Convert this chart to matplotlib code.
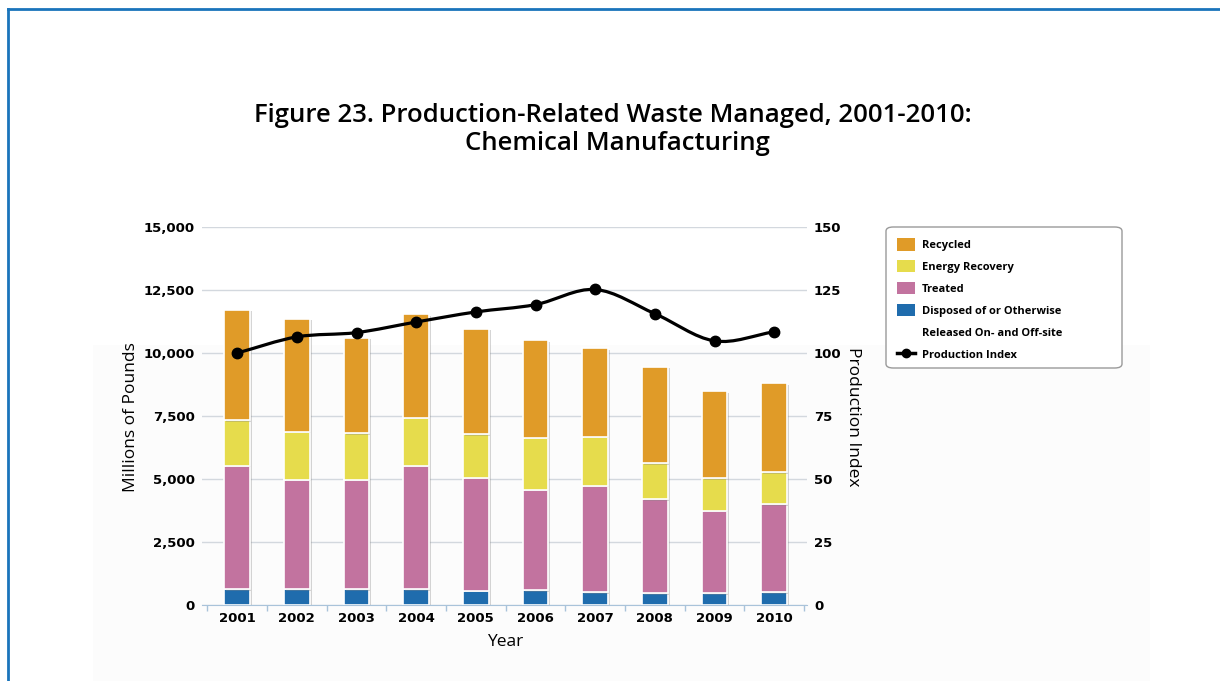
import numpy as np
import matplotlib
matplotlib.use("Agg")
import matplotlib.pyplot as plt
from matplotlib.patches import Patch, Rectangle, PathPatch, FancyBboxPatch
from matplotlib.lines import Line2D
from matplotlib.path import Path
import matplotlib.patheffects as pe

#%% data (millions of pounds)
years = [2001, 2002, 2003, 2004, 2005, 2006, 2007, 2008, 2009, 2010]
disposed = [620, 620, 620, 620, 560, 590, 500, 460, 460, 500]
treated = [4900, 4340, 4340, 4900, 4490, 3970, 4220, 3730, 3280, 3490]
energy = [1810, 1920, 1850, 1900, 1720, 2070, 1960, 1430, 1280, 1270]
recycled = [4390, 4470, 3800, 4110, 4180, 3870, 3500, 3830, 3460, 3530]
prod_index = [100.0, 106.4, 108.1, 112.3, 116.3, 119.2, 125.2, 115.6, 104.8, 108.4]

left_ticks = [0, 2500, 5000, 7500, 10000, 12500, 15000]
right_ticks = [0, 25, 50, 75, 100, 125, 150]

c_rec = '#e09b28'
c_en = '#e6dc4c'
c_tr = '#c2739f'
c_dis = '#1f6cad'

W, H = 1220, 681
fig = plt.figure(figsize=(W/100, H/100), dpi=100)

def px(x, y):
    return x / W, 1 - y / H

# faint backdrop + blue frame
fig.patches.append(Rectangle(px(93, 681), (1150-93)/W, (681-345)/H, transform=fig.transFigure,
                             facecolor='#fcfcfc', edgecolor='none', zorder=-10))
fig.add_artist(Line2D([8/W, 1], [1-9/H, 1-9/H], color='#1a74bb', lw=2))
fig.add_artist(Line2D([8/W, 8/W], [0, 1-9/H], color='#1a74bb', lw=2))

# title
t1 = 'Figure 23. Production-Related Waste Managed, 2001-2010:'
t2 = 'Chemical Manufacturing'
fig.text(*px(613, 116), t1, ha='center', va='center', fontsize=18.5, family='Open Sans', weight='semibold')
fig.text(*px(617, 143), t2, ha='center', va='center', fontsize=18.5, family='Open Sans', weight='semibold')

ax = fig.add_axes([202/W, 1-605/H, (807-202)/W, (605-227)/H])
ax.patch.set_alpha(0)
x = np.array(years)
bw = 0.43
shadow = [pe.SimplePatchShadow(offset=(1.5, -1), shadow_rgbFace='#888888', alpha=0.35), pe.Normal()]

b0 = np.zeros(len(years))
for vals, col in [(disposed, c_dis), (treated, c_tr), (energy, c_en), (recycled, c_rec)]:
    bars = ax.bar(x, vals, bw, bottom=b0, color=col, edgecolor='white', linewidth=1.2, zorder=3)
    for b in bars:
        b.set_path_effects(shadow)
    b0 = b0 + np.array(vals)

ax.set_xlim(2000.41, 2010.55)
ax.set_ylim(0, 15000)
ax.set_yticks(left_ticks)
ax.set_yticklabels(['{:,}'.format(v) for v in left_ticks])
ax.set_xticks(years)
ax.set_xticks(np.arange(2000.5, 2011, 1.0), minor=True)
ax.tick_params(axis='x', which='major', length=0, pad=5)
ax.tick_params(axis='x', which='minor', length=4, color='#a9c3da', width=1)
ax.tick_params(axis='y', length=0, pad=5)
for lab in ax.get_xticklabels() + ax.get_yticklabels():
    lab.set_fontweight('bold')
    lab.set_fontsize(9.5)
    lab.set_family('DejaVu Sans')
ax.grid(axis='y', color='#d3d8de', linewidth=1, zorder=0)
for s in ['top', 'right', 'left']:
    ax.spines[s].set_visible(False)
ax.spines['bottom'].set_color('#a9c3da')
ax.spines['bottom'].set_zorder(4)

ax2 = ax.twinx()
ax2.set_ylim(0, 150)
ax2.set_yticks(right_ticks)
ax2.tick_params(axis='y', length=0, pad=5)
for lab in ax2.get_yticklabels():
    lab.set_fontweight('bold')
    lab.set_fontsize(9.5)
for s in ax2.spines.values():
    s.set_visible(False)

# smooth production index line (bezier through the points)
yv = np.array(prod_index)
n = len(yv)
m = np.zeros(n)
m[1:-1] = (yv[2:] - yv[:-2]) / 2
m[0] = yv[1] - yv[0]
m[-1] = yv[-1] - yv[-2]
verts = [(x[0], yv[0])]
codes = [Path.MOVETO]
for i in range(n - 1):
    verts += [(x[i] + 1/3, yv[i] + m[i]/3), (x[i+1] - 1/3, yv[i+1] - m[i+1]/3), (x[i+1], yv[i+1])]
    codes += [Path.CURVE4] * 3
ax2.add_patch(PathPatch(Path(verts, codes), facecolor='none', edgecolor='black', lw=2.3, zorder=5))
ax2.plot(x, yv, 'o', color='black', markersize=7.5, zorder=6)

# axis titles
fig.text(*px(131, 417), 'Millions of Pounds', rotation=90, ha='center', va='center', fontsize=12.5, family='Open Sans')
fig.text(*px(853, 417), 'Production Index', rotation=270, ha='center', va='center', fontsize=12.5, family='Open Sans')
fig.text(*px(505, 642), 'Year', ha='center', va='center', fontsize=12.5, family='Open Sans')

# legend (frame drawn separately so it can be wider than the entries)
fig.patches.append(FancyBboxPatch(px(886, 368), (1122-886)/W, (368-227)/H, transform=fig.transFigure,
                                  boxstyle='round,pad=0,rounding_size=0.006', facecolor='white',
                                  edgecolor='#9a9a9a', linewidth=1, zorder=1))
handles = [Patch(facecolor=c_rec), Patch(facecolor=c_en), Patch(facecolor=c_tr), Patch(facecolor=c_dis),
           Patch(facecolor='none', edgecolor='none'),
           Line2D([], [], color='black', lw=2.5, marker='o', markersize=6)]
labels = ['Recycled', 'Energy Recovery', 'Treated', 'Disposed of or Otherwise',
          'Released On- and Off-site', 'Production Index']
leg = fig.legend(handles, labels, loc='upper left', bbox_to_anchor=px(888, 229),
                 prop={'family': 'Open Sans', 'weight': 'bold', 'size': 8},
                 frameon=False, handlelength=1.6, handleheight=1.3,
                 labelspacing=0.82, borderpad=0.85, handletextpad=0.6, borderaxespad=0)
leg.set_zorder(2)

fig.savefig('out.png', dpi=100)
